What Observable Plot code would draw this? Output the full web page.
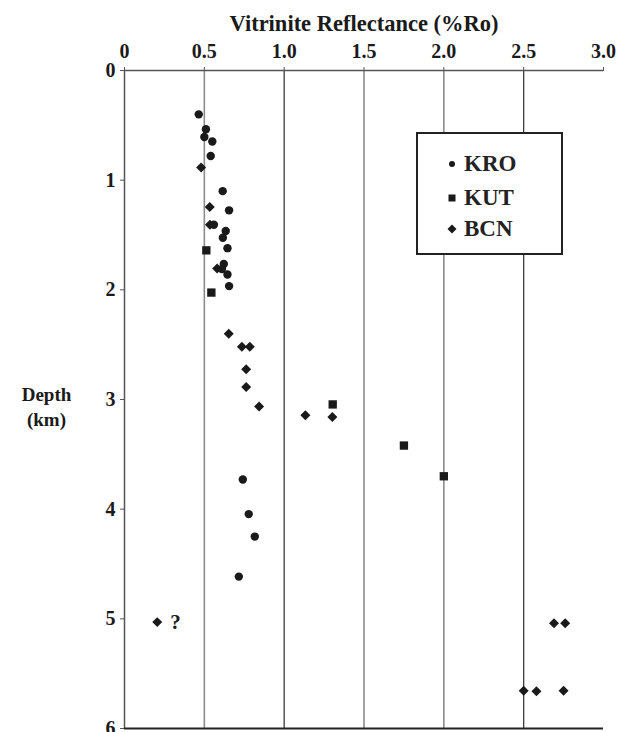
<!DOCTYPE html>
<html>
<head>
<meta charset="utf-8">
<script src="https://cdn.jsdelivr.net/npm/d3@7"></script>
<script src="https://cdn.jsdelivr.net/npm/@observablehq/plot@0.6"></script>
<style>
  html, body { margin: 0; padding: 0; background: #fff; }
  #wrap { position: relative; width: 621px; height: 732px; }
  #wrap svg text { font-family: "Liberation Serif", "Times New Roman", serif !important; font-weight: bold; }
  #legend {
    position: absolute; left: 416px; top: 132px; width: 143px; height: 119px;
    border: 2px solid #222; background: #fff;
    font-family: "Liberation Serif", "Times New Roman", serif; font-weight: bold; font-size: 23px; color: #222;
  }
  .row { position: absolute; left: 28px; height: 26px; line-height: 26px; display: flex; align-items: center; }
  .row svg { width: 12px; height: 12px; margin-right: 6px; }
</style>
</head>
<body>
<div id="wrap"></div>
<script>
// Series: KRO (circles), KUT (squares), BCN (diamonds): vitrinite reflectance (%Ro) vs depth (km)
const kroRo    = [0.465, 0.51, 0.50, 0.55, 0.54, 0.615, 0.655, 0.56, 0.634, 0.616, 0.645, 0.622, 0.61, 0.645, 0.655, 0.741, 0.778, 0.816, 0.716];
const kroDepth = [0.40, 0.536, 0.606, 0.648, 0.779, 1.10, 1.275, 1.406, 1.464, 1.525, 1.62, 1.764, 1.81, 1.86, 1.966, 3.73, 4.045, 4.25, 4.615];

const kutRo    = [0.5125, 0.544, 1.304, 1.75, 2.0];
const kutDepth = [1.64, 2.025, 3.045, 3.42, 3.70];

const bcnRo    = [0.48, 0.534, 0.535, 0.58, 0.653, 0.735, 0.785, 0.762, 0.762, 0.843, 1.133, 1.302, 0.205, 2.69, 2.76, 2.50, 2.58, 2.75];
const bcnDepth = [0.885, 1.245, 1.406, 1.806, 2.40, 2.518, 2.518, 2.725, 2.885, 3.064, 3.143, 3.16, 5.03, 5.04, 5.04, 5.655, 5.66, 5.655];

const xTicks = [0, 0.5, 1.0, 1.5, 2.0, 2.5, 3.0];
const yTicks = [0, 1, 2, 3, 4, 5, 6];
const seriesNames = ["KRO", "KUT", "BCN"];
const noteText = ["?"];
const noteRo = [0.32];
const noteDepth = [5.03];

const toRows = (xs, ys) => xs.map((x, i) => ({x, y: ys[i]}));
const kro = toRows(kroRo, kroDepth);
const kut = toRows(kutRo, kutDepth);
const bcn = toRows(bcnRo, bcnDepth);
const notes = noteText.map((t, i) => ({t, x: noteRo[i], y: noteDepth[i]}));

const ink = "#1a1a1a";
const serif = "Liberation Serif, Times New Roman, serif";
const chart = Plot.plot({
  width: 621,
  height: 732,
  marginLeft: 124,
  marginRight: 18,
  marginTop: 70,
  marginBottom: 4,
  x: {domain: [0, 3]},
  y: {domain: [0, 6], reverse: true},
  style: "font-family: 'Liberation Serif', 'Times New Roman', serif; font-weight: bold; font-size: 20px; background: #fff; color: #1a1a1a;",
  marks: [
    Plot.ruleX(xTicks.filter(d => d > 0 && d < 3 && d !== 1 && d !== 2.5), {stroke: "#8c8c8c", strokeWidth: 1.6}),
    Plot.ruleX(xTicks.filter(d => d === 1 || d === 2.5), {stroke: "#3c3c3c", strokeWidth: 1.3}),
    Plot.ruleY([0], {stroke: "#555", strokeWidth: 1.5}),
    Plot.ruleX([0], {stroke: "#555", strokeWidth: 1.5}),
    Plot.ruleY([6], {stroke: "#222", strokeWidth: 2}),
    Plot.axisX({anchor: "top", ticks: xTicks, tickFormat: d => d === 0 ? "0" : d.toFixed(1), tickSize: 4, tickPadding: 9, label: null, fontSize: 20, fontFamily: serif, fontWeight: "bold", stroke: "#555"}),
    Plot.axisY({anchor: "left", ticks: yTicks, tickFormat: d => String(d), tickSize: 4, tickPadding: 5, label: null, fontSize: 20, fontFamily: serif, fontWeight: "bold", stroke: "#555"}),
    Plot.text(["Vitrinite Reflectance (%Ro)"], {frameAnchor: "top", dy: -55, fontSize: 22.5, fontFamily: serif, fontWeight: "bold", fill: ink}),
    Plot.text(["Depth\n(km)"], {frameAnchor: "left", textAnchor: "middle", dx: -78, dy: 6, fontSize: 19, lineHeight: 1.3, fontFamily: serif, fontWeight: "bold", fill: ink}),
    Plot.dot(kro, {x: "x", y: "y", symbol: "circle", r: 4.2, fill: ink, stroke: "none"}),
    Plot.dot(kut, {x: "x", y: "y", symbol: "square", r: 4.7, fill: ink, stroke: "none"}),
    Plot.dot(bcn, {x: "x", y: "y", symbol: "diamond2", r: 4.5, fill: ink, stroke: "none"}),
    Plot.text(notes, {x: "x", y: "y", text: "t", fontSize: 21, fontFamily: serif, fontWeight: "bold", fill: ink})
  ]
});
const wrap = document.getElementById("wrap");
wrap.appendChild(chart);

// Legend
const legend = document.createElement("div");
legend.id = "legend";
const legendSymbols = [
  '<circle cx="6" cy="6" r="3" fill="#1a1a1a"/>',
  '<rect x="2.5" y="2.5" width="7" height="7" fill="#1a1a1a"/>',
  '<path d="M6 1.5 L10.5 6 L6 10.5 L1.5 6 Z" fill="#1a1a1a"/>'
];
const rowTops = [17, 51, 82];
seriesNames.forEach((name, i) => {
  const row = document.createElement("div");
  row.className = "row";
  row.style.top = rowTops[i] + "px";
  row.innerHTML = `<svg viewBox="0 0 12 12">${legendSymbols[i]}</svg><span>${name}</span>`;
  legend.appendChild(row);
});
wrap.appendChild(legend);
</script>
</body>
</html>
